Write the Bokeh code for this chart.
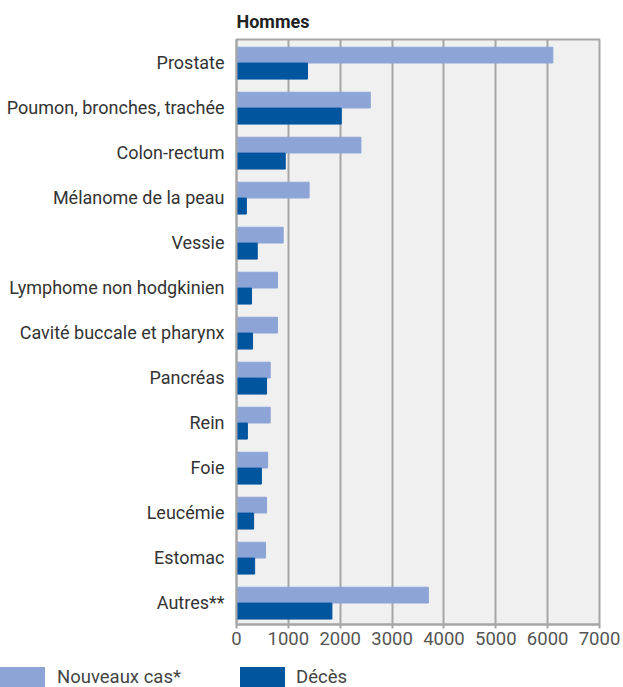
from bokeh.plotting import figure
from bokeh.models import Range1d, FactorRange, ColumnDataSource, FixedTicker, Div
from bokeh.layouts import column
from bokeh.transform import dodge
from bokeh.embed import file_html
from bokeh.resources import INLINE

title_text = "Hommes"
categories = ["Prostate", "Poumon, bronches, trachée", "Colon-rectum",
              "Mélanome de la peau", "Vessie", "Lymphome non hodgkinien",
              "Cavité buccale et pharynx", "Pancréas", "Rein", "Foie",
              "Leucémie", "Estomac", "Autres**"]
nouveaux_cas = [6100, 2580, 2400, 1400, 900, 790, 790, 650, 650, 600, 580, 560, 3700]
deces = [1370, 2020, 940, 190, 400, 290, 310, 580, 210, 480, 330, 350, 1840]
x_ticks = [0, 1000, 2000, 3000, 4000, 5000, 6000, 7000]
series_names = ["Nouveaux cas*", "Décès"]

LIGHT = "#8DA5D6"
DARK = "#00559F"
GRID = "#A6A6A6"
FONT = "Roboto"
FS = "18.5px"

src = ColumnDataSource(dict(cat=categories, new=nouveaux_cas, dec=deces))

W, H = 623, 664
ML, MR, MT, MB = 236, 24, 39, 40

p = figure(width=W, height=H, output_backend="svg", toolbar_location=None,
           y_range=FactorRange(factors=list(reversed(categories)), range_padding=0),
           x_range=Range1d(0, 7000),
           min_border_left=ML, min_border_right=MR, min_border_top=MT,
           min_border_bottom=MB, title=title_text, margin=0)
p.background_fill_color = "#F0F0F0"
p.border_fill_color = "white"
p.outline_line_color = GRID
p.outline_line_width = 2

p.hbar(y=dodge("cat", 0.153, range=p.y_range), left=0, right="new", height=0.35,
       color=LIGHT, source=src)
p.hbar(y=dodge("cat", -0.202, range=p.y_range), left=0, right="dec", height=0.355,
       color=DARK, source=src)

p.title.align = "left"
p.title.text_font = FONT
p.title.text_font_size = "18px"
p.title.text_font_style = "bold"
p.title.text_color = "#222222"
p.title.standoff = 16

p.xaxis.ticker = FixedTicker(ticks=x_ticks)
p.xaxis.axis_line_color = GRID
p.xaxis.axis_line_width = 2
p.xaxis.major_tick_line_color = GRID
p.xaxis.major_tick_line_width = 2
p.xaxis.major_tick_out = 4
p.xaxis.major_tick_in = 0
p.xaxis.minor_tick_line_color = None
p.xaxis.major_label_standoff = 3
p.xaxis.major_label_text_font = FONT
p.xaxis.major_label_text_font_size = FS
p.xaxis.major_label_text_color = "#555555"

p.yaxis.axis_line_color = GRID
p.yaxis.axis_line_width = 2
p.yaxis.major_tick_line_color = None
p.yaxis.major_tick_out = 0
p.yaxis.major_tick_in = 0
p.yaxis.major_label_standoff = 12
p.yaxis.major_label_text_font = FONT
p.yaxis.major_label_text_font_size = "18px"
p.yaxis.major_label_text_color = "#333333"

p.xgrid.grid_line_color = GRID
p.xgrid.grid_line_width = 2
p.ygrid.grid_line_color = None

# legend strip (HTML, flex row)
swatch_colors = [LIGHT, DARK]
text_gaps = [12, 11]
text_widths = [183, 120]
parts = []
for name, col, gap, tw in zip(series_names, swatch_colors, text_gaps, text_widths):
    parts.append(
        f'<span style="flex:none;display:inline-block;width:45px;height:20px;background:{col};"></span>'
        f'<span style="flex:none;display:inline-block;margin-left:{gap}px;width:{tw}px;'
        f'white-space:nowrap;line-height:20px;">{name}</span>')
legend_html = ('<div style="display:flex;flex-direction:row;align-items:center;'
               'height:20px;margin:3px 0 0 0;padding:0;overflow:hidden;'
               f'font-family:{FONT};font-size:{FS};color:#444444;">' + "".join(parts) + "</div>")
leg = Div(text=legend_html, width=W, height=23, margin=0,
          styles={"overflow": "hidden"})

layout = column(p, leg, spacing=0)

open("out.html", "w").write(file_html(layout, INLINE))
